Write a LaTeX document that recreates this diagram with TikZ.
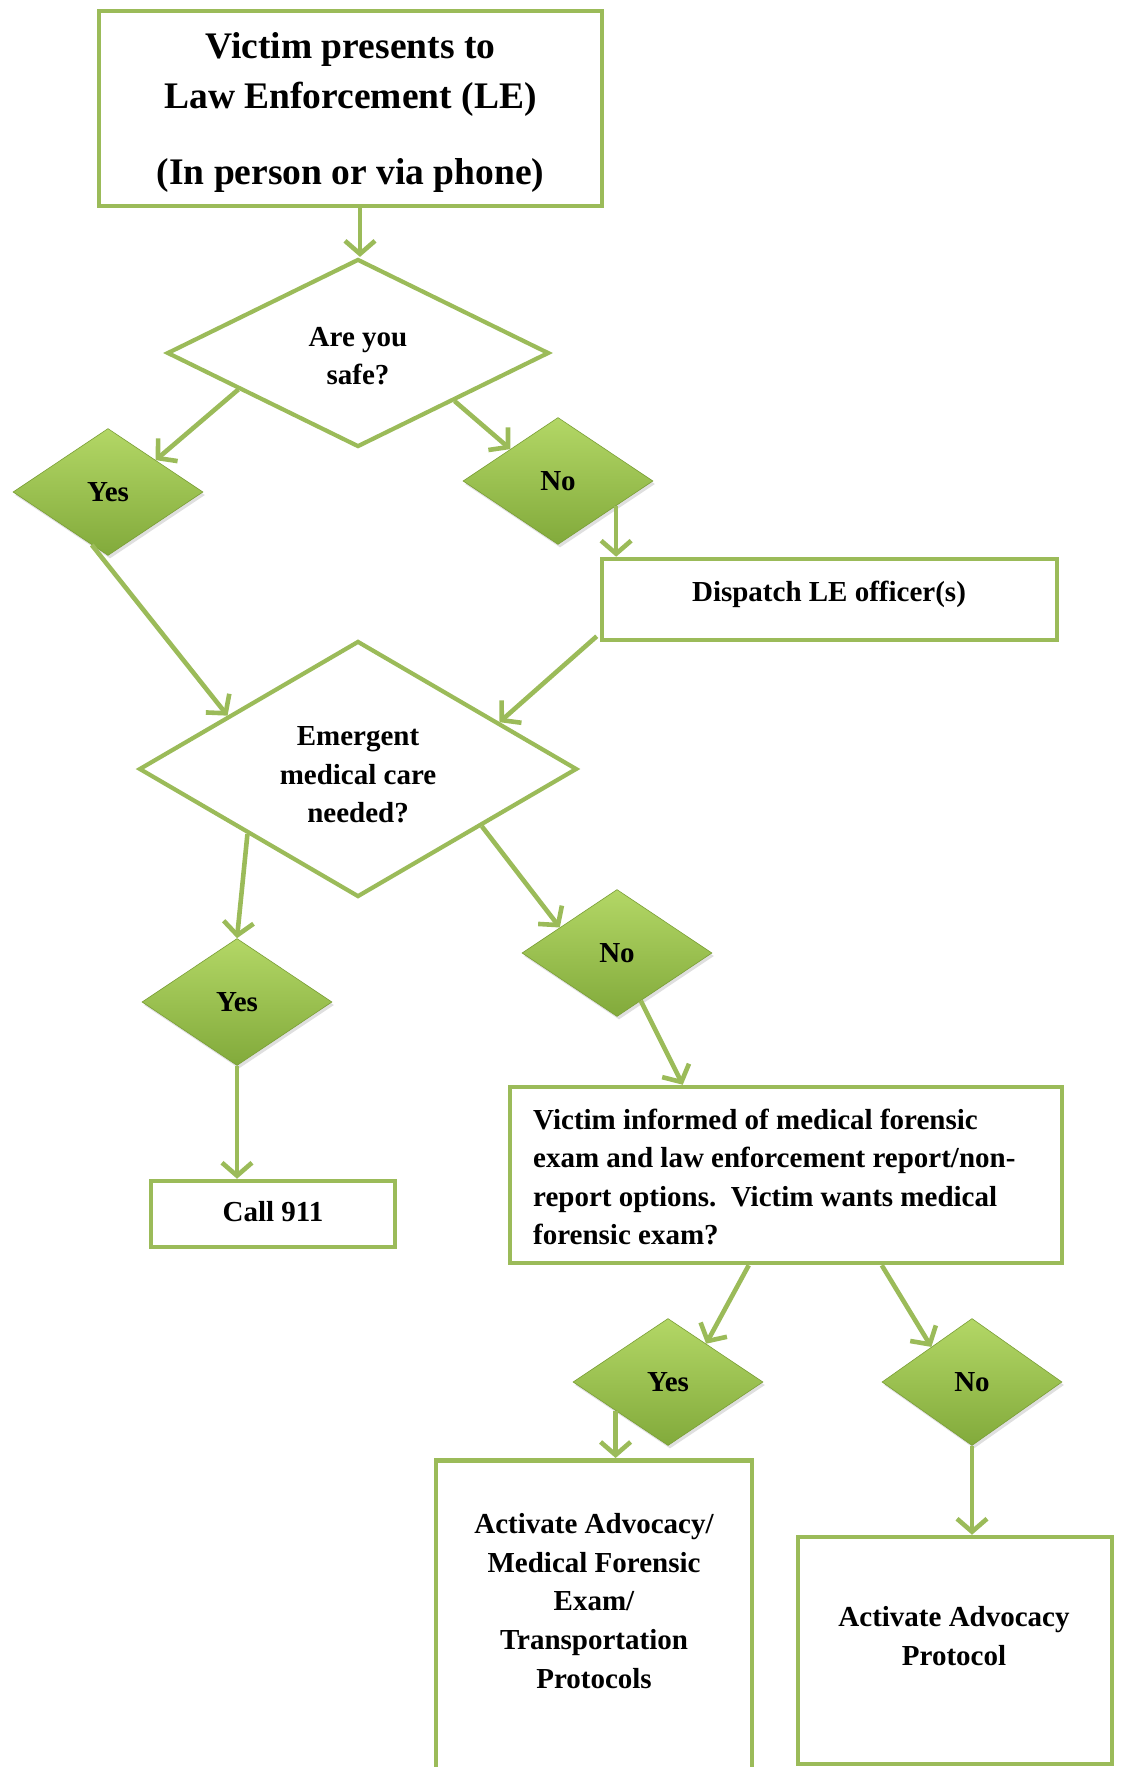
\documentclass[tikz,border=0pt]{standalone}
\usepackage{fontspec}
\setmainfont{Liberation Serif}
\usetikzlibrary{shapes.geometric,arrows.meta,calc,shadows}
\definecolor{ogreen}{HTML}{9BBB59}
\definecolor{gtop}{HTML}{B3D766}
\definecolor{gbot}{HTML}{82AA3B}
\definecolor{gedge}{HTML}{7A9E36}
\begin{document}
\begin{tikzpicture}[x=1pt,y=-1pt,
  box/.style={draw=ogreen,line width=4.5pt,fill=white,inner sep=0pt},
  qdia/.style={diamond,draw=ogreen,line width=4.2pt,fill=white,inner sep=0pt},
  gdia/.style={diamond,draw=gedge,line width=0.6pt,top color=gtop,bottom color=gbot,inner sep=0pt,
     minimum width=190pt,minimum height=127pt,font=\small\bfseries,
     drop shadow={opacity=0.25,shadow xshift=2pt,shadow yshift=-3pt}},
  txt/.style={inner sep=0pt,align=center,font=\small\bfseries},
  conn/.style={draw=ogreen,line width=4.6pt,-{Straight Barb[length=13pt,width=30pt]}},
  every node/.append style={font=\bfseries}]
\def\small{\fontsize{29}{38.6}\selectfont}
\def\big{\fontsize{37.5}{50}\selectfont}
\useasboundingbox (0,0) rectangle (1122,1767);
\clip (0,0) rectangle (1122,1767);

% top box
\node[box,minimum width=503pt,minimum height=195pt] (top) at (350.5,108.5) {};
\node[txt,font=\big\bfseries] (topt) at (350.5,112.5) {Victim presents to\\Law Enforcement (LE)\\[26pt](In person or via phone)};

% decision 1
\node[qdia,minimum width=382pt,minimum height=188pt] (d1) at (358,353) {};
\node[txt] (d1t) at (358,356) {Are you\\safe?};
\node[gdia] (y1) at (108,492) {Yes};
\node[gdia] (n1) at (558,481) {No};

% dispatch
\node[box,minimum width=455pt,minimum height=81pt] (disp) at (829.5,599.5) {};
\node[txt] (dispt) at (829,594) {Dispatch LE officer(s)};

% decision 2
\node[qdia,minimum width=438pt,minimum height=256pt] (d2) at (358,769) {};
\node[txt] (d2t) at (358,775) {Emergent\\medical care\\needed?};
\node[gdia] (y2) at (237,1002) {Yes};
\node[gdia] (n2) at (617,953) {No};

% call 911
\node[box,minimum width=244pt,minimum height=66pt] (call) at (273,1214) {};
\node[txt] (callt) at (273,1212) {Call 911};

% victim informed
\node[box,minimum width=552pt,minimum height=176pt] (vbox) at (786,1175) {};
\node[txt,align=left,anchor=west] (vt) at (533,1177) {Victim informed of medical forensic\\exam and law enforcement report/non-\\report options.\ \ Victim wants medical\\forensic exam?};

\node[gdia] (y3) at (668,1382) {Yes};
\node[gdia,minimum width=180pt] (n3) at (972,1382) {No};

% bottom boxes
\node[box,minimum width=316pt,minimum height=360pt,anchor=north] (b4) at (594,1458) {};
\node[txt] (b4t) at (594,1601) {Activate Advocacy/\\Medical Forensic\\Exam/\\Transportation\\Protocols};
\node[box,minimum width=314pt,minimum height=227pt] (b5) at (955,1650.5) {};
\node[txt] (b5t) at (954,1636) {Activate Advocacy\\Protocol};

% connectors
\coordinate (a1) at (top.south -| d1.north);
\draw[conn] ([xshift=2pt,yshift=2pt]a1) -- ([xshift=2pt]d1.north);
\draw[conn] ($(d1.west)!0.38!(d1.south)$) -- (y1.north east);
\draw[conn] (d1.south east) -- (n1.north west);
\coordinate (a4) at ($(n1.south)!0.61!(n1.east)$);
\draw[conn] (a4) -- (a4 |- disp.north);
\draw[conn] ($(y1.south)!0.17!(y1.west)$) -- ($(d2.west)!0.41!(d2.north)$);
\draw[conn] ([xshift=-3pt,yshift=6pt]disp.south west) -- ($(d2.north)!0.64!(d2.east)$);
\draw[conn] (d2.south west) -- (y2.north);
\draw[conn] ($(d2.south)!0.56!(d2.east)$) -- ($(n2.west)!0.4!(n2.north)$);
\draw[conn] (y2.south) -- (y2.south |- call.north);
\coordinate (a10) at ($(vbox.north west)+(175,0)$);
\draw[conn] ($(n2.south)!0.25!(n2.east)$) -- (a10);
\draw[conn] ($(vbox.south west)+(241,0)$) -- ($(y3.north)!0.4!(y3.east)$);
\draw[conn] ($(vbox.south west)+(374,0)$) -- ($(n3.west)!0.55!(n3.north)$);
\coordinate (a13) at ($(y3.south)!0.55!(y3.west)$);
\draw[conn] (a13) -- (a13 |- b4.north);
\draw[conn] (n3.south) -- (n3.south |- b5.north);
\end{tikzpicture}
\end{document}
